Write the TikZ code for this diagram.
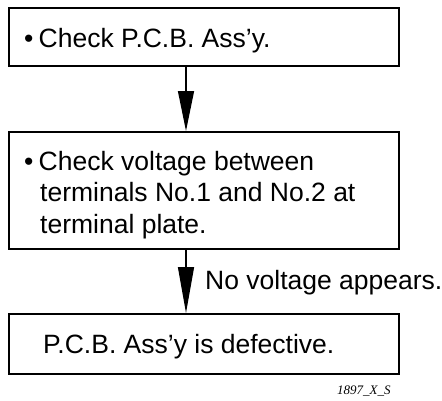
\documentclass[tikz,border=0pt]{standalone}
\usepackage{fontspec}
\setmainfont{Liberation Sans}
\newfontfamily\codefont{Liberation Serif}
\usetikzlibrary{arrows.meta}
\begin{document}
\begin{tikzpicture}[x=1pt,y=-1pt,
  box/.style={draw=black,line width=2pt,minimum width=390pt,inner sep=0pt,anchor=north west},
  txt/.style={anchor=base west,inner sep=0pt,font=\fontsize{26.5}{31.5}\selectfont},
  flow/.style={line width=1.3pt,-{Triangle[length=#1,width=16pt]}},
  flow/.default=42pt]
\useasboundingbox (0,0) rectangle (442,400);
\node[box,minimum height=58pt] (b1) at (8,7) {};
\node[box,minimum height=117pt] (b2) at (8,131) {};
\node[box,minimum height=60pt] (b3) at (8,313) {};
\coordinate (ax) at (186,0);
% texts
\node[txt] (t1) at (24,47) {•\hspace{0.2em}Check P.C.B. Ass’y.};
\node[txt] (t2a) at (24,170) {•\hspace{0.2em}Check voltage between};
\node[txt] (t2b) at (40,201.5) {terminals No.1 and No.2 at};
\node[txt] (t2c) at (40,233) {terminal plate.};
\node[txt] (t3) at (43,353) {P.C.B. Ass’y is defective.};
\node[txt] (lab) at (205,289) {No voltage appears.};
\node[anchor=base west,inner sep=0pt,font=\codefont\itshape\fontsize{13}{15}\selectfont] (code) at (337,394) {1897\_X\_S};
% arrows
\draw[flow=40pt] (b1.south -| ax) -- (b2.north -| ax);
\draw[flow=46pt] (b2.south -| ax) -- (b3.north -| ax);
\end{tikzpicture}
\end{document}
